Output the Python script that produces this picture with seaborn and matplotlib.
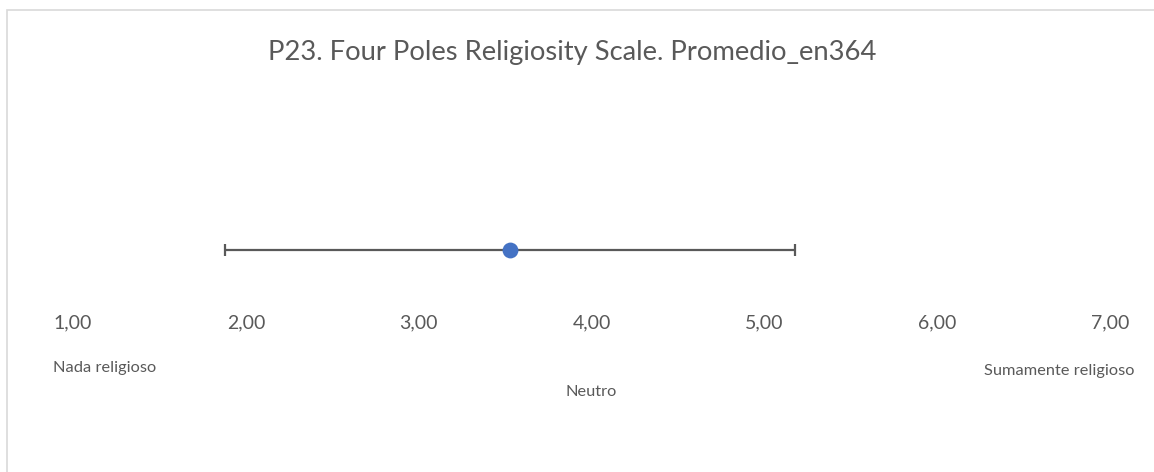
import matplotlib
matplotlib.use("Agg")
import matplotlib.pyplot as plt
import seaborn as sns
import pandas as pd
from matplotlib.patches import Rectangle

# ---- data ----
item = ["P23"]
mean_values = [3.53]
sd_values = [1.65]
tick_values = [1, 2, 3, 4, 5, 6, 7]
tick_labels = ["1,00", "2,00", "3,00", "4,00", "5,00", "6,00", "7,00"]
anchor_labels = ["Nada religioso", "Neutro", "Sumamente religioso"]
anchor_values = [1, 4, 7]
title = "P23. Four Poles Religiosity Scale. Promedio_en364"

sns.set_theme(style="white")
plt.rcParams['font.family'] = ['Lato', 'DejaVu Sans']

W, H = 1154, 472
fig = plt.figure(figsize=(W / 100, H / 100), dpi=100)
ax = fig.add_axes([73 / W, 1 - 310 / H, 1037 / W, 120 / H])

df = pd.DataFrame({"item": item, "mean": mean_values, "sd": sd_values, "y": [0] * len(item)})

gray = "#595959"
ax.errorbar(df["mean"], df["y"], xerr=df["sd"], fmt="none", ecolor=gray,
            elinewidth=1.6, capsize=4.3, capthick=1.6, zorder=2)
sns.scatterplot(data=df, x="mean", y="y", ax=ax, color="#4472C4", s=130,
                edgecolor="#4472C4", linewidth=0, zorder=3, legend=False)

ax.set_xlim(tick_values[0], tick_values[-1])
ax.set_ylim(-1, 1)
ax.set_xticks(tick_values)
ax.set_xticklabels(tick_labels)
ax.set_yticks([])
ax.set_xlabel("")
ax.set_ylabel("")
ax.tick_params(axis="x", length=0, pad=3, labelsize=14, labelcolor=gray)
for s in ax.spines.values():
    s.set_visible(False)
ax.patch.set_alpha(0)

# anchor labels
offsets = [(-20, "left", 368), (0, "center", 392), (25, "right", 371)]
for lab, xv, (dx, ha, ypx) in zip(anchor_labels, anchor_values, offsets):
    ax.annotate(lab, xy=(xv, H - ypx), xycoords=("data", "figure pixels"),
                xytext=(dx, 0), textcoords="offset pixels",
                ha=ha, va="center", fontsize=11.8, color=gray, annotation_clip=False)

fig.text(572 / W, 1 - 60 / H, title, ha="center", va="baseline", fontsize=19.7, color=gray)

# chart border
fig.patches.append(Rectangle((7 / W, -0.1), 1.2, 1 - 10 / H + 0.1,
                             transform=fig.transFigure, fill=False,
                             edgecolor="#D9D9D9", linewidth=1.2))

fig.savefig("out.png", dpi=100, facecolor="white")
